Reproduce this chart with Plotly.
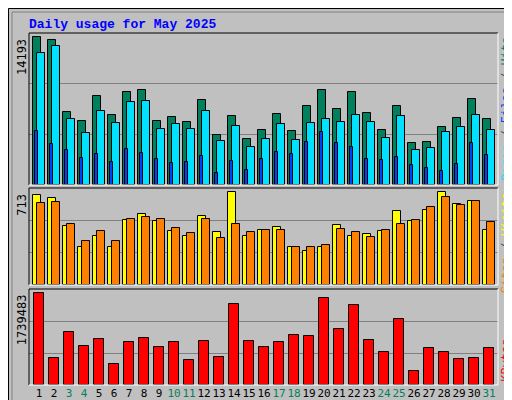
import plotly.graph_objects as go
from plotly.subplots import make_subplots

days = list(range(1, 32))
weekend = {3, 4, 10, 11, 17, 18, 24, 25, 31}

hits = [14193, 13903, 7048, 6179, 8496, 6758, 8883, 9076, 6179, 6565, 6083, 8110, 4827, 6662, 4441, 5310,
        6855, 5214, 7531, 9076, 7338, 8883, 6952, 5310, 7531, 4055, 4152, 5600, 6469, 8207, 6372]
files = [12647, 13323, 6372, 5020, 7145, 5986, 7917, 8013, 5407, 5889, 5407, 7145, 4248, 5696, 3669, 4441,
         5889, 4345, 5986, 6372, 6083, 6758, 6083, 4538, 6662, 3379, 3572, 5117, 5600, 6758, 5310]
pages = [5214, 3958, 3379, 2607, 2993, 2221, 3476, 3089, 2510, 2124, 2221, 2800, 1159, 2317, 1448, 2510,
         3186, 2993, 4152, 5117, 4055, 3669, 2510, 2414, 2703, 1931, 1641, 1352, 2027, 4055, 2896]
visits = [690, 666, 449, 287, 372, 294, 496, 542, 488, 411, 372, 527, 403, 713, 372, 418,
          442, 287, 263, 287, 457, 372, 387, 411, 566, 488, 573, 713, 620, 643, 418]
sites = [628, 635, 465, 333, 411, 333, 504, 519, 504, 434, 395, 504, 356, 465, 403, 418,
         418, 294, 287, 302, 426, 403, 364, 418, 465, 496, 597, 674, 612, 643, 480]
kbytes = [1739483, 501532, 996715, 730078, 863396, 387259, 806260, 882442, 711032, 806260, 463441,
          825305, 520577, 1529989, 825305, 711032, 806260, 939578, 920533, 1644262, 1053851, 1510943,
          844351, 615805, 1244306, 272986, 691987, 615805, 482486, 501532, 691987]

C_HITS, C_FILES, C_PAGES = "#00805c", "#0040ff", "#00e0ff"
C_VISITS, C_SITES, C_KB = "#ffff00", "#ff8000", "#ff0000"
BG = "#c0c0c0"
MONO = "DejaVu Sans Mono"

# plot area in pixels: x 21..490, y 25..377
L, R, T, B = 21, 490, 25, 377


def px(x):
    return (x - L) / (R - L)


def py(y):
    return (B - y) / (B - T)


fig = make_subplots(rows=3, cols=1, shared_xaxes=True)


def bar(y, color, offset, width, row):
    fig.add_trace(go.Bar(x=days, y=y, offset=offset, width=width, marker_color=color,
                         marker_line_color="black", marker_line_width=1, showlegend=False,
                         hoverinfo="skip"), row=row, col=1)


bar(hits, C_HITS, -0.38, 0.49, 1)
bar(files, C_PAGES, -0.11, 0.49, 1)
bar(pages, C_FILES, -0.27, 0.18, 1)
bar(visits, C_VISITS, -0.38, 0.53, 2)
bar(sites, C_SITES, -0.11, 0.49, 2)
bar(kbytes, C_KB, -0.31, 0.67, 3)

maxes = [max(hits) * 151 / 147, max(visits) * 287 / 276, max(kbytes) * 285 / 274]
domains = [[py(177), 1], [py(277), py(180)], [0, py(281)]]
for i in range(3):
    m = maxes[i]
    fig.update_yaxes(range=[0, m], domain=domains[i], tickvals=[m / 3, 2 * m / 3],
                     showticklabels=False, showgrid=True, gridcolor="#808080", gridwidth=1,
                     zeroline=False, fixedrange=True, automargin=False, row=i + 1, col=1)
    fig.update_xaxes(range=[0.333, 31.6], domain=[0, 1], showgrid=False, automargin=False,
                     zeroline=False, row=i + 1, col=1, showticklabels=(i == 2))

ticktext = [f'<span style="color:{"#00805c" if d in weekend else "black"}">{d}</span>' for d in days]
fig.update_xaxes(tickvals=days, ticktext=ticktext, ticks="", tickangle=0,
                 tickfont=dict(family=MONO, size=11), row=3, col=1)

shapes = [dict(type="rect", xref="paper", yref="paper", x0=px(0.5), y0=py(399.5), x1=px(511.5), y1=py(0.5),
               line=dict(color="black", width=1)),
          dict(type="rect", xref="paper", yref="paper", x0=px(4), y0=py(395), x1=px(507), y1=py(4),
               line=dict(color="#808080", width=1))]
for lo, hi in domains:
    shapes += [
        dict(type="line", xref="paper", yref="paper", x0=0, x1=1, y0=hi, y1=hi, line=dict(color="black", width=1)),
        dict(type="line", xref="paper", yref="paper", x0=0, x1=0, y0=lo, y1=hi, line=dict(color="black", width=1)),
        dict(type="line", xref="paper", yref="paper", x0=0, x1=1, y0=lo, y1=lo, line=dict(color="white", width=1)),
        dict(type="line", xref="paper", yref="paper", x0=1, x1=1, y0=lo, y1=hi, line=dict(color="white", width=1)),
    ]

ann = [dict(text="<b>Daily usage for May 2025</b>", x=px(19), y=py(7), xref="paper", yref="paper",
            xanchor="left", yanchor="top", showarrow=False, font=dict(family="Liberation Mono", size=13, color="#0000ff"))]
labels = ["14193", "713", "1739483"]
for i, (m, lab) in enumerate(zip([max(hits), max(visits), max(kbytes)], labels)):
    ann.append(dict(text=lab, x=px(14), y=m, xref="paper", yref=f"y{'' if i == 0 else i + 1}",
                    xanchor="center", yanchor="top", textangle=-90, showarrow=False,
                    font=dict(family=MONO, size=12, color="black")))

right = [
    (f'<span style="color:{C_PAGES}">Pages</span> / <span style="color:{C_FILES}">Files</span> / '
     f'<span style="color:{C_HITS}">Hits</span>', domains[0][1] - 0.005),
    (f'<span style="color:{C_SITES}">Sites</span> / <span style="color:{C_VISITS}">Visits</span>', domains[1][1] - 0.005),
    (f'<span style="color:{C_KB}">KBytes</span>', domains[2][0] + 0.005),
]
for i, (t, y) in enumerate(right):
    ann.append(dict(text=t, x=px(499), y=y, xref="paper", yref="paper", xanchor="center",
                    yanchor="bottom" if i == 2 else "top", textangle=-90, showarrow=False,
                    font=dict(family="Liberation Mono", size=12)))

fig.update_layout(width=512, height=400, margin=dict(l=L, r=512 - R, t=T, b=400 - B), paper_bgcolor=BG,
                  plot_bgcolor=BG, barmode="overlay", bargap=0, shapes=shapes, annotations=ann)
fig.write_html("out.html")
